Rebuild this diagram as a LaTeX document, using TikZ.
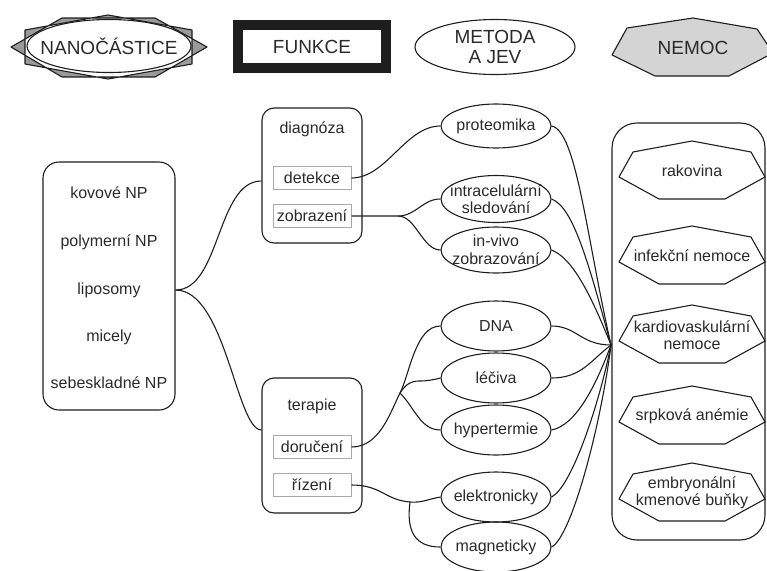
\documentclass[tikz,border=0pt]{standalone}
\usepackage{fontspec}
\setmainfont{Liberation Sans}
\usetikzlibrary{shapes.geometric,calc}
\definecolor{txt}{HTML}{2A2A2A}
\definecolor{ln}{HTML}{1E1E1E}
\definecolor{sub}{HTML}{A8A8A8}
\definecolor{nemfill}{HTML}{D4D4D4}
\definecolor{starfill}{HTML}{9A9A9A}
\newcommand\heptpath[1]{\draw[heptline] ([shift={(-73,6)}]#1) -- ([shift={(-59,-19)}]#1) -- ([shift={(0,-30)}]#1) -- ([shift={(59,-19)}]#1) -- ([shift={(73,6)}]#1) -- ([shift={(33,28)}]#1) -- ([shift={(-33,28)}]#1) -- cycle;}
\begin{document}
\begin{tikzpicture}[x=1pt,y=-1pt, line join=round,
  every node/.style={font=\fontsize{16}{17.5}\selectfont, text=txt, inner sep=0pt},
  conn/.style={draw=ln, line width=1.1pt},
  rbox/.style={draw=ln, line width=1.1pt, rounded corners=12pt},
  subbox/.style={draw=sub, line width=1pt, minimum width=78, minimum height=23},
  ell/.style={ellipse, draw=ln, line width=1.1pt, inner xsep=-20pt, inner ysep=-10pt, minimum width=110, minimum height=50, align=center},
  ttl/.style={font=\fontsize{19}{20}\selectfont},
  heptline/.style={draw=ln, line width=1.1pt}]
\useasboundingbox (0,0) rectangle (767,570);

% legend
\draw[draw=ln, line width=1.1pt, fill=starfill, even odd rule]
  (11,47) -- (62,18) -- (155,18) -- (207,47) -- (155,77) -- (62,77) -- cycle
  (25,30) -- (108,15) -- (192,30) -- (192,64) -- (108,79) -- (25,64) -- cycle;
\node[ellipse, draw=ln, line width=1.1pt, fill=white, minimum width=164, minimum height=53, inner xsep=-30pt, inner ysep=-5pt, ttl] (nano) at (109,46) {NANOČÁSTICE};
\node[draw=ln, line width=10pt, line join=miter, minimum width=148, minimum height=43, ttl] (funk) at (312,46.5) {FUNKCE};
\node[ellipse, draw=ln, line width=1.1pt, minimum width=160, minimum height=55, inner xsep=-30pt, inner ysep=-10pt, align=center, ttl] (met) at (495,47) {METODA\\A JEV};
\coordinate (nemc) at (693,48);
\draw[heptline, fill=nemfill] ([shift={(-81,7)}]nemc) -- ([shift={(-66,-20)}]nemc) -- ([shift={(0,-30)}]nemc) -- ([shift={(64,-19)}]nemc) -- ([shift={(80,5)}]nemc) -- ([shift={(36,28)}]nemc) -- ([shift={(-38,28)}]nemc) -- cycle;
\node[ttl] (nem) at (nemc) {NEMOC};

% nanoparticles
\node[rbox, rounded corners=16pt, minimum width=132, minimum height=248] (np) at (109,286) {};
\node (kov) at (109,193) {kovové NP};
\node (pol) at (109,242) {polymerní NP};
\node (lip) at (109,290) {liposomy};
\node (mic) at (109,337) {micely};
\node (seb) at (109,383) {sebeskladné NP};

% functions
\node[rbox, minimum width=100, minimum height=135] (diag) at (312,175.5) {};
\node (diagt) at (312,129) {diagnóza};
\node[subbox] (det) at (312,178) {detekce};
\node[subbox] (zob) at (312,216) {zobrazení};
\node[rbox, minimum width=100, minimum height=135] (ter) at (312,445.5) {};
\node (tert) at (312,406) {terapie};
\node[subbox] (dor) at (312,447) {doručení};
\node[subbox] (riz) at (312,485) {řízení};

% methods
\node[ell, minimum height=44] (prot) at (496,126) {proteomika};
\node[ell, minimum height=47] (intr) at (496,199) {intracelulární\\sledování};
\node[ell, minimum height=46] (inv) at (496,250) {in-vivo\\zobrazování};
\node[ell] (dna) at (496,326) {DNA};
\node[ell] (lec) at (496,378) {léčiva};
\node[ell] (hyp) at (496,430) {hypertermie};
\node[ell] (ele) at (496,497) {elektronicky};
\node[ell] (mag) at (496,547) {magneticky};

% diseases
\node[rbox, rounded corners=25pt, minimum width=153, minimum height=417] (dis) at (688.5,331.5) {};
\node[align=center] (rak) at (692,171) {rakovina};
\node[align=center] (inf) at (692,256) {infekční nemoce};
\node[align=center] (kar) at (692,335) {kardiovaskulární\\nemoce};
\node[align=center] (srp) at (692,416) {srpková anémie};
\node[align=center] (emb) at (692,493) {embryonální\\kmenové buňky};
\heptpath{rak.center}
\heptpath{inf.center}
\heptpath{kar.center}
\heptpath{srp.center}
\heptpath{emb.center}

% connectors left
\draw[conn] (np.east |- lip) .. controls +(45,0) and +(-45,0) .. ([yshift=-5.5pt]diag.west);
\draw[conn] (np.east |- lip) .. controls +(50,0) and +(-25,0) .. ([yshift=15.5pt]ter.west);
\draw[conn] (det.east) .. controls +(35,0) and +(-35,0) .. (prot.west);
\coordinate (br1) at (398,216);
\draw[conn] (zob.east) -- (br1) .. controls +(18,0) and +(-18,0) .. (intr.west);
\draw[conn] (br1) .. controls +(18,0) and +(-18,0) .. (inv.west);
\coordinate (br2) at (400,393);
\coordinate (lecm) at (419,381);
\draw[conn] (dor.east) .. controls +(28,0) and +(-10,20) .. (br2) .. controls +(10,-20) and +(-25,0) .. (dna.west);
\draw[conn] (br2) .. controls +(6,-9) and +(-8,0) .. (lecm) .. controls +(8,0) and +(-8,2) .. (lec.west);
\draw[conn] (br2) .. controls +(15,15) and +(-20,0) .. (hyp.west);
\coordinate (br3) at (410,502);
\draw[conn] (riz.east) .. controls +(30,0) and +(-25,-2) .. (br3) .. controls +(12,1) and +(-12,2) .. (ele.west);
\draw[conn] (br3) .. controls +(-4,30) and +(-25,0) .. (mag.west);

% connectors right
\coordinate (hub) at (611,345);
\draw[conn] (prot.east) .. controls +(25,5) and +(-25,-110) .. (hub);
\draw[conn] (intr.east) .. controls +(22,8) and +(-22,-80) .. (hub);
\draw[conn] (inv.east) .. controls +(20,8) and +(-22,-55) .. (hub);
\draw[conn] (dna.east) .. controls +(25,0) and +(-30,0) .. (hub);
\draw[conn] (lec.east) .. controls +(30,0) and +(-20,15) .. (hub);
\draw[conn] (hyp.east) .. controls +(25,-5) and +(-15,40) .. (hub);
\draw[conn] (ele.east) .. controls +(20,-10) and +(-12,60) .. (hub);
\draw[conn] (mag.east) .. controls +(20,-10) and +(-10,80) .. (hub);
\end{tikzpicture}
\end{document}
